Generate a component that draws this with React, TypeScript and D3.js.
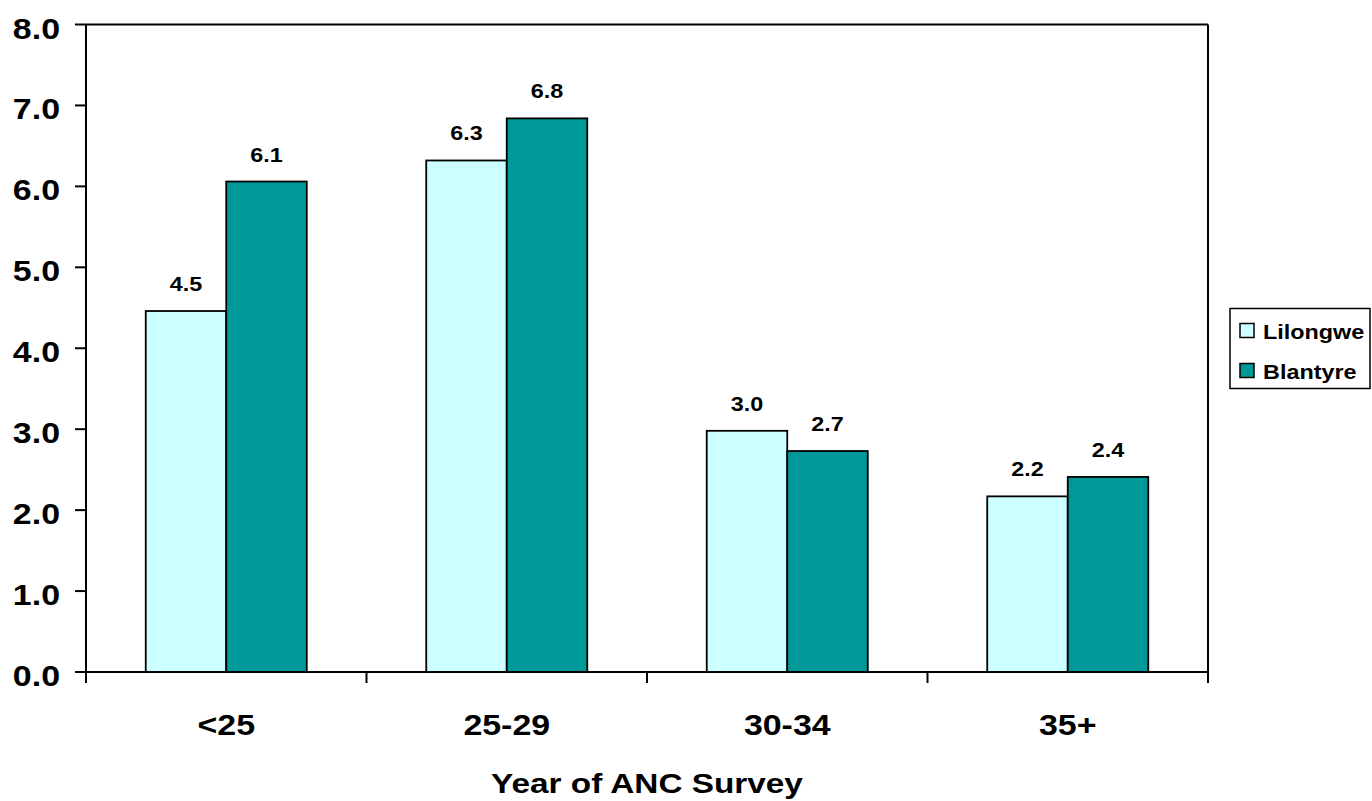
import React from "react";
import * as d3 from "d3";

const categories = ["<25", "25-29", "30-34", "35+"];
const seriesNames = ["Lilongwe", "Blantyre"];
const lilongwe = [4.46, 6.32, 2.98, 2.17];
const blantyre = [6.06, 6.84, 2.73, 2.41];
const yTicks = [0, 1, 2, 3, 4, 5, 6, 7, 8];
const colors = ["#CCFFFF", "#009999"];
const xTitle = "Year of ANC Survey";

const W = 1372;
const H = 801;
const M = { left: 86, right: 1208, top: 24.5, bottom: 672 };
const SX = 1.17;
const FONT = "'Liberation Sans', Arial, Helvetica, sans-serif";

function T({ x, y, size, anchor = "middle", children }: any) {
  return (
    <text
      transform={`translate(${x},${y}) scale(${SX},1)`}
      textAnchor={anchor}
      fontFamily={FONT}
      fontWeight="bold"
      fontSize={size}
      fill="#000"
    >
      {children}
    </text>
  );
}

export default function App() {
  const x0 = d3.scaleBand<string>().domain(categories).range([M.left, M.right]).paddingInner(0).paddingOuter(0);
  const x1 = d3
    .scaleBand<string>()
    .domain(seriesNames)
    .range([0, x0.bandwidth()])
    .paddingInner(0)
    .paddingOuter(0.742);
  const y = d3.scaleLinear().domain([0, 8]).range([M.bottom, M.top]);
  const data = [lilongwe, blantyre];
  const boundaries = categories.map((c) => x0(c) as number).concat([M.right]);

  return (
    <svg width={W} height={H} style={{ position: "absolute", left: 0, top: 0, display: "block", background: "#fff" }}>
      <rect x={0} y={0} width={W} height={H} fill="#fff" />
      {/* bars */}
      {categories.map((c, ci) =>
        seriesNames.map((s, si) => {
          const v = data[si][ci];
          const bx = (x0(c) as number) + (x1(s) as number);
          const by = y(v);
          return (
            <g key={c + s}>
              <rect
                x={bx}
                y={by}
                width={x1.bandwidth()}
                height={y(0) - by}
                fill={colors[si]}
                stroke="#000"
                strokeWidth={1.8}
              />
              <T x={bx + x1.bandwidth() / 2} y={by - 20} size={20}>
                {v.toFixed(1)}
              </T>
            </g>
          );
        })
      )}
      {/* frame */}
      <line x1={M.left} x2={M.right} y1={M.top} y2={M.top} stroke="#000" strokeWidth={2} />
      <line x1={M.right} x2={M.right} y1={M.top} y2={M.bottom} stroke="#000" strokeWidth={2} />
      <line x1={M.left} x2={M.left} y1={M.top} y2={M.bottom} stroke="#000" strokeWidth={2} />
      <line x1={M.left} x2={M.right} y1={M.bottom} y2={M.bottom} stroke="#000" strokeWidth={2} />
      {/* y ticks */}
      {yTicks.map((t) => (
        <g key={t}>
          <line x1={75} x2={M.left} y1={y(t)} y2={y(t)} stroke="#000" strokeWidth={2} />
          <T x={60} y={y(t) + 14} size={29} anchor="end">
            {t.toFixed(1)}
          </T>
        </g>
      ))}
      {/* x ticks */}
      {boundaries.map((b, i) => (
        <line key={i} x1={b} x2={b} y1={M.bottom} y2={683} stroke="#000" strokeWidth={2} />
      ))}
      {categories.map((c) => (
        <T key={c} x={(x0(c) as number) + x0.bandwidth() / 2} y={735} size={29}>
          {c}
        </T>
      ))}
      <T x={(M.left + M.right) / 2} y={793} size={28.5}>
        {xTitle}
      </T>
      {/* legend */}
      <rect x={1230} y={308.5} width={140} height={80} fill="#fff" stroke="#000" strokeWidth={1.5} />
      {seriesNames.map((s, i) => (
        <g key={s}>
          <rect x={1240} y={323.5 + i * 40} width={14} height={14} fill={colors[i]} stroke="#000" strokeWidth={1.5} />
          <T x={1263} y={339 + i * 40} size={20} anchor="start">
            {s}
          </T>
        </g>
      ))}
    </svg>
  );
}
